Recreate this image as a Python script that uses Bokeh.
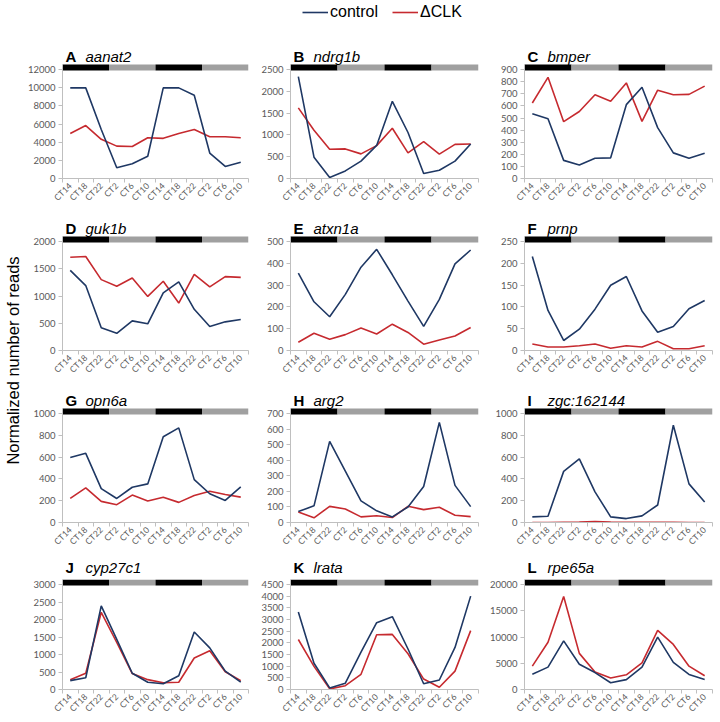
import math
from bokeh.plotting import figure
from bokeh.models import Range1d, FixedTicker, Label, Legend, LegendItem, ColumnDataSource
from bokeh.layouts import row, gridplot
from bokeh.embed import file_html
from bokeh.resources import INLINE

# ---------------- data ----------------
ct_labels = ["CT14", "CT18", "CT22", "CT2", "CT6", "CT10",
             "CT14", "CT18", "CT22", "CT2", "CT6", "CT10"]
phase_start = [0, 3, 6, 9]
phase_end = [3, 6, 9, 12]
phase_color = ["#000000", "#a0a0a0", "#000000", "#a0a0a0"]

letters = ["A", "B", "C", "D", "E", "F", "G", "H", "I", "J", "K", "L"]
genes = ["aanat2", "ndrg1b", "bmper", "guk1b", "atxn1a", "prnp",
         "opn6a", "arg2", "zgc:162144", "cyp27c1", "lrata", "rpe65a"]
series_names = ["control", "ΔCLK"]

aanat2_control = [10000, 10000, 5400, 1190, 1620, 2450, 10000, 10000, 9190, 2810, 1330, 1800]
aanat2_dclk = [4970, 5840, 4320, 3570, 3530, 4500, 4430, 4970, 5400, 4610, 4610, 4500]
ndrg1b_control = [2340, 490, 23, 174, 400, 760, 1775, 1057, 113, 189, 400, 793]
ndrg1b_dclk = [1624, 1110, 672, 680, 566, 755, 1156, 589, 846, 559, 785, 793]
bmper_control = [535, 495, 150, 111, 168, 171, 611, 755, 421, 212, 168, 209]
bmper_dclk = [625, 837, 470, 554, 693, 639, 791, 473, 731, 693, 696, 764]
guk1b_control = [1473, 1194, 418, 315, 545, 491, 1061, 1261, 758, 442, 527, 570]
guk1b_dclk = [1715, 1727, 1303, 1182, 1333, 994, 1273, 873, 1400, 1170, 1358, 1345]
atxn1a_control = [356, 224, 155, 258, 383, 465, 348, 227, 111, 235, 398, 462]
atxn1a_dclk = [38, 79, 52, 73, 103, 76, 121, 83, 29, 48, 67, 106]
prnp_control = [216, 92, 23, 49, 95, 150, 170, 91, 42, 55, 96, 115]
prnp_dclk = [15, 8, 8, 11, 15, 5, 11, 8, 21, 4, 4, 11]
opn6a_control = [597, 636, 312, 221, 324, 355, 788, 870, 394, 264, 203, 327]
opn6a_dclk = [221, 318, 194, 164, 252, 197, 233, 185, 248, 288, 258, 233]
arg2_control = [70, 107, 522, 330, 139, 75, 36, 100, 232, 644, 239, 102]
arg2_dclk = [68, 30, 104, 87, 36, 43, 32, 104, 83, 98, 47, 38]
zgc162144_control = [52, 58, 470, 585, 282, 52, 36, 61, 161, 894, 355, 188]
zgc162144_dclk = [0, 0, 2, 4, 8, 3, 2, 2, 1, 1, 0, 0]
cyp27c1_control = [255, 336, 2391, 1436, 464, 209, 164, 391, 1645, 1191, 527, 209]
cyp27c1_dclk = [282, 464, 2209, 1345, 455, 282, 191, 209, 900, 1109, 509, 255]
lrata_control = [3329, 1128, 68, 272, 1604, 2867, 3125, 1739, 245, 408, 1807, 4008]
lrata_dclk = [2147, 992, 27, 163, 652, 2351, 2365, 1536, 448, 95, 788, 2527]
rpe65a_control = [2927, 4268, 9268, 4817, 3232, 1280, 1890, 4268, 10000, 5183, 2866, 1890]
rpe65a_dclk = [4451, 9024, 17744, 6890, 3354, 2195, 2805, 5061, 11280, 8598, 4451, 2622]

y_max = [12000, 2500, 900, 2000, 500, 250, 1000, 700, 1000, 3000, 4500, 20000]
y_step = [2000, 500, 100, 500, 100, 50, 200, 100, 200, 500, 500, 5000]

controls = [aanat2_control, ndrg1b_control, bmper_control, guk1b_control, atxn1a_control,
            prnp_control, opn6a_control, arg2_control, zgc162144_control, cyp27c1_control,
            lrata_control, rpe65a_control]
dclks = [aanat2_dclk, ndrg1b_dclk, bmper_dclk, guk1b_dclk, atxn1a_dclk, prnp_dclk,
         opn6a_dclk, arg2_dclk, zgc162144_dclk, cyp27c1_dclk, lrata_dclk, rpe65a_dclk]

# ---------------- style / layout ----------------
NAVY = "#1f3864"
RED = "#c62a2f"
AXIS = "#bfbfbf"
TICKTXT = "#595959"
TICK_FONT = "Lato"
TITLE_FONT = "Liberation Sans"

PLOT_H = 114                    # height of the data area of every panel
FRAME_W = 188
col_left = [36, 36, 40]
col_right = [6, 6, 6]
row_head = [64, 24, 24, 24]     # space above the data area (title, legend)
row_bottom = [34, 34, 34, 26]
YL_W = 24


def make_panel(i):
    c = i % 3
    r = i // 3
    ymax = y_max[i]
    top = ymax * 1.048
    frame_h = PLOT_H + row_head[r]
    y_end = top * frame_h / PLOT_H
    w = col_left[c] + FRAME_W + col_right[c]
    h = frame_h + row_bottom[r]
    p = figure(width=w, height=h, output_backend="svg", toolbar_location=None,
               x_range=Range1d(0, 12), y_range=Range1d(0, y_end), title=None,
               min_border_left=col_left[c], min_border_right=col_right[c],
               min_border_top=0, min_border_bottom=row_bottom[r])
    p.outline_line_color = None
    p.xgrid.visible = False
    p.ygrid.visible = False

    xs = [k + 0.5 for k in range(len(ct_labels))]
    src = ColumnDataSource(dict(x=xs, control=controls[i], dclk=dclks[i]))
    r_d = p.line("x", "dclk", source=src, line_color=RED, line_width=1.6)
    r_c = p.line("x", "control", source=src, line_color=NAVY, line_width=1.6)

    bar = ColumnDataSource(dict(left=phase_start, right=phase_end, color=phase_color))
    p.quad(left="left", right="right", bottom=ymax * 0.992, top=top, fill_color="color",
           line_color=None, source=bar)

    xa = p.xaxis[0]
    xa.ticker = FixedTicker(ticks=xs, minor_ticks=list(range(13)))
    xa.major_label_overrides = {x: lab for x, lab in zip(xs, ct_labels)}
    xa.major_label_orientation = math.pi / 4
    xa.major_tick_out = 0
    xa.major_tick_in = 0
    xa.minor_tick_out = 4
    xa.minor_tick_in = 0
    xa.minor_tick_line_color = AXIS
    xa.axis_line_color = AXIS
    xa.major_label_text_font = TICK_FONT
    xa.major_label_text_font_size = "8.5px"
    xa.major_label_text_color = TICKTXT
    xa.major_label_standoff = 2

    ya = p.yaxis[0]
    ya.ticker = FixedTicker(ticks=list(range(0, ymax + 1, y_step[i])))
    ya.bounds = (0, top)
    ya.major_tick_out = 4
    ya.major_tick_in = 0
    ya.minor_tick_out = 0
    ya.minor_tick_in = 0
    ya.major_tick_line_color = AXIS
    ya.axis_line_color = AXIS
    ya.major_label_text_font = TICK_FONT
    ya.major_label_text_font_size = "9.5px"
    ya.major_label_text_color = TICKTXT
    ya.major_label_standoff = 3

    p.add_layout(Label(x=3, y=PLOT_H + 8, x_units="screen", y_units="screen",
                       text=letters[i], text_font=TITLE_FONT, text_font_style="bold",
                       text_font_size="15px", text_color="black",
                       text_baseline="alphabetic", text_align="left"))
    p.add_layout(Label(x=23, y=PLOT_H + 8, x_units="screen", y_units="screen",
                       text=genes[i], text_font=TITLE_FONT, text_font_style="italic",
                       text_font_size="15px", text_color="black",
                       text_baseline="alphabetic", text_align="left"))

    if i == 1:
        legend = Legend(items=[LegendItem(label=series_names[0], renderers=[r_c]),
                               LegendItem(label=series_names[1], renderers=[r_d])],
                        orientation="horizontal", location=(12, frame_h - 21),
                        label_text_font=TITLE_FONT, label_text_font_size="16px",
                        label_text_color="black", glyph_width=26, glyph_height=18,
                        label_height=18, label_standoff=2, spacing=14, padding=0,
                        margin=0, border_line_color=None, background_fill_alpha=0)
        p.add_layout(legend)
    return p


panels = [make_panel(i) for i in range(12)]
grid = gridplot([panels[r * 3:(r + 1) * 3] for r in range(4)], toolbar_location=None)
total_h = sum(PLOT_H + row_head[r] + row_bottom[r] for r in range(4))

yl = figure(width=YL_W, height=total_h, output_backend="svg", toolbar_location=None,
            x_axis_type=None, y_axis_type=None, min_border=0, title=None,
            x_range=Range1d(0, 1), y_range=Range1d(0, 1))
yl.outline_line_color = None
yl.xgrid.visible = False
yl.ygrid.visible = False
yl.add_layout(Label(x=12, y=total_h - 360, x_units="screen", y_units="screen",
                    text="Normalized number of reads", angle=math.pi / 2,
                    text_font=TITLE_FONT, text_font_size="16.5px", text_color="black",
                    text_align="center", text_baseline="middle"))

layout = row(yl, grid)

open("out.html", "w").write(file_html(layout, INLINE))
